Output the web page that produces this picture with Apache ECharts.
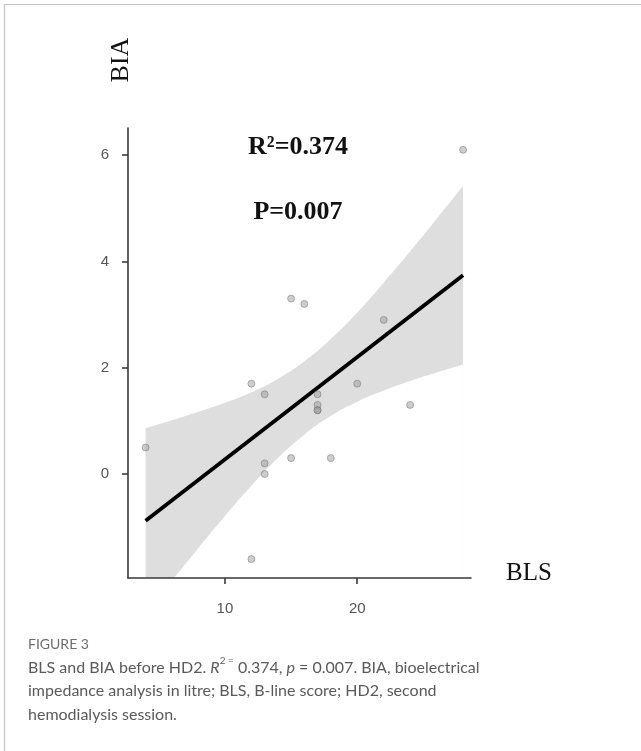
<!DOCTYPE html>
<html>
<head>
<meta charset="utf-8">
<script src="https://cdn.jsdelivr.net/npm/echarts@6/dist/echarts.min.js"></script>
<style>
  html, body { margin: 0; padding: 0; background: #ffffff; }
  #chart { width: 641px; height: 751px; }
</style>
</head>
<body>
<div id="chart"></div>
<script>
// Observed points (BLS vs BIA)
const blsValues = [4, 12, 12, 13, 13, 13, 15, 15, 16, 17, 17, 17, 17, 18, 20, 22, 24, 28];
const biaValues = [0.5, 1.7, -1.6, 1.5, 0.2, 0, 3.3, 0.3, 3.2, 1.5, 1.3, 1.2, 1.2, 0.3, 1.7, 2.9, 1.3, 6.1];

// Fitted regression line
const fitX = [4, 28];
const fitY = [-0.88, 3.74];

// Confidence band
const bandX = [4, 6, 8, 10, 12, 14, 16, 18, 20, 22, 24, 26, 28];
const bandLower = [-2.62, -2.00, -1.39, -0.79, -0.22, 0.30, 0.74, 1.09, 1.36, 1.57, 1.75, 1.91, 2.06];
const bandUpper = [0.86, 1.01, 1.17, 1.34, 1.54, 1.79, 2.12, 2.54, 3.04, 3.60, 4.19, 4.80, 5.42];

// Axis ticks
const xTicks = [10, 20];
const yTicks = [0, 2, 4, 6];

const chart = echarts.init(document.getElementById('chart'), null, { renderer: 'canvas' });

const axisColor = '#3a3a3a';
const labelColor = '#555555';

const option = {
  backgroundColor: '#ffffff',
  animation: false,
  grid: { left: 128, top: 128, width: 343, height: 450, containLabel: false },
  xAxis: {
    type: 'value', z: 10,
    min: 2.67, max: 28.6,
    splitLine: { show: false },
    axisLine: { show: true, onZero: false, lineStyle: { color: axisColor, width: 1.6 } },
    axisTick: { show: true, customValues: xTicks, length: 6, lineStyle: { color: axisColor, width: 1.6 } },
    axisLabel: { show: true, customValues: xTicks, margin: 23, color: labelColor, fontSize: 15, fontFamily: 'Liberation Sans' }
  },
  yAxis: {
    type: 'value', z: 10,
    min: -1.956, max: 6.51,
    splitLine: { show: false },
    axisLine: { show: true, onZero: false, lineStyle: { color: axisColor, width: 1.6 } },
    axisTick: { show: true, customValues: yTicks, length: 6, lineStyle: { color: axisColor, width: 1.6 } },
    axisLabel: { show: true, customValues: yTicks, margin: 19, color: labelColor, fontSize: 15, fontFamily: 'Liberation Sans' }
  },
  series: [
    {
      name: 'upper', type: 'line',
      data: bandX.map((x, i) => [x, bandUpper[i]]),
      symbol: 'none', smooth: true, silent: true,
      lineStyle: { opacity: 0 },
      areaStyle: { color: '#dedede', opacity: 1, origin: 'start' }, z: 1
    },
    {
      name: 'lower', type: 'line',
      data: bandX.map((x, i) => [x, bandLower[i]]),
      symbol: 'none', smooth: true, silent: true,
      lineStyle: { opacity: 0 },
      areaStyle: { color: '#ffffff', opacity: 1, origin: 'start' }, z: 1.5
    },
    {
      name: 'fit', type: 'line',
      data: fitX.map((x, i) => [x, fitY[i]]),
      symbol: 'none', silent: true,
      lineStyle: { color: '#000000', width: 3.8 }, z: 3
    },
    {
      name: 'points', type: 'scatter',
      data: blsValues.map((x, i) => [x, biaValues[i]]),
      symbol: 'circle', symbolSize: 7,
      itemStyle: { color: 'rgba(150,150,150,0.6)', borderColor: 'rgba(110,110,110,0.6)', borderWidth: 1 },
      z: 4
    }
  ],
  graphic: [
    { type: 'line', shape: { x1: 4, y1: 4.5, x2: 641, y2: 4.5 }, style: { stroke: '#c4c4c4', lineWidth: 1.2 } },
    { type: 'line', shape: { x1: 4.5, y1: 4, x2: 4.5, y2: 751 }, style: { stroke: '#c4c4c4', lineWidth: 1.2 } },
    { type: 'text', x: 121, y: 60, rotation: Math.PI / 2,
      style: { text: 'BIA', font: '26px "Liberation Serif"', fill: '#111', textAlign: 'center', textVerticalAlign: 'middle' } },
    { type: 'text', x: 529, y: 573,
      style: { text: 'BLS', font: '25px "Liberation Serif"', fill: '#111', textAlign: 'center', textVerticalAlign: 'middle' } },
    { type: 'text', x: 298, y: 147,
      style: { text: 'R\u00B2=0.374', font: 'bold 26px "Liberation Serif"', fill: '#111', textAlign: 'center', textVerticalAlign: 'middle' } },
    { type: 'text', x: 298, y: 212,
      style: { text: 'P=0.007', font: 'bold 26px "Liberation Serif"', fill: '#111', textAlign: 'center', textVerticalAlign: 'middle' } },
    { type: 'text', left: 28, top: 637,
      style: { text: 'FIGURE 3', font: '14px Lato', fill: '#6e6e6e' } },
    { type: 'text', left: 28, top: 656,
      style: {
        text: 'BLS and BIA before HD2. {i|R}{sup|2 =} 0.374, {i|p} = 0.007. BIA, bioelectrical\nimpedance analysis in litre; BLS, B-line score; HD2, second\nhemodialysis session.',
        font: '16px Lato', fill: '#5a5a5a', lineHeight: 23.5,
        rich: {
          i: { fontStyle: 'italic', fontSize: 16, fontFamily: 'Lato', fill: '#5a5a5a', lineHeight: 23.5 },
          sup: { fontSize: 10, fontFamily: 'Lato', fill: '#5a5a5a', verticalAlign: 'top', lineHeight: 23.5, padding: [0, 0, 8, 0] }
        }
      } }
  ]
};

chart.setOption(option);
</script>
</body>
</html>
